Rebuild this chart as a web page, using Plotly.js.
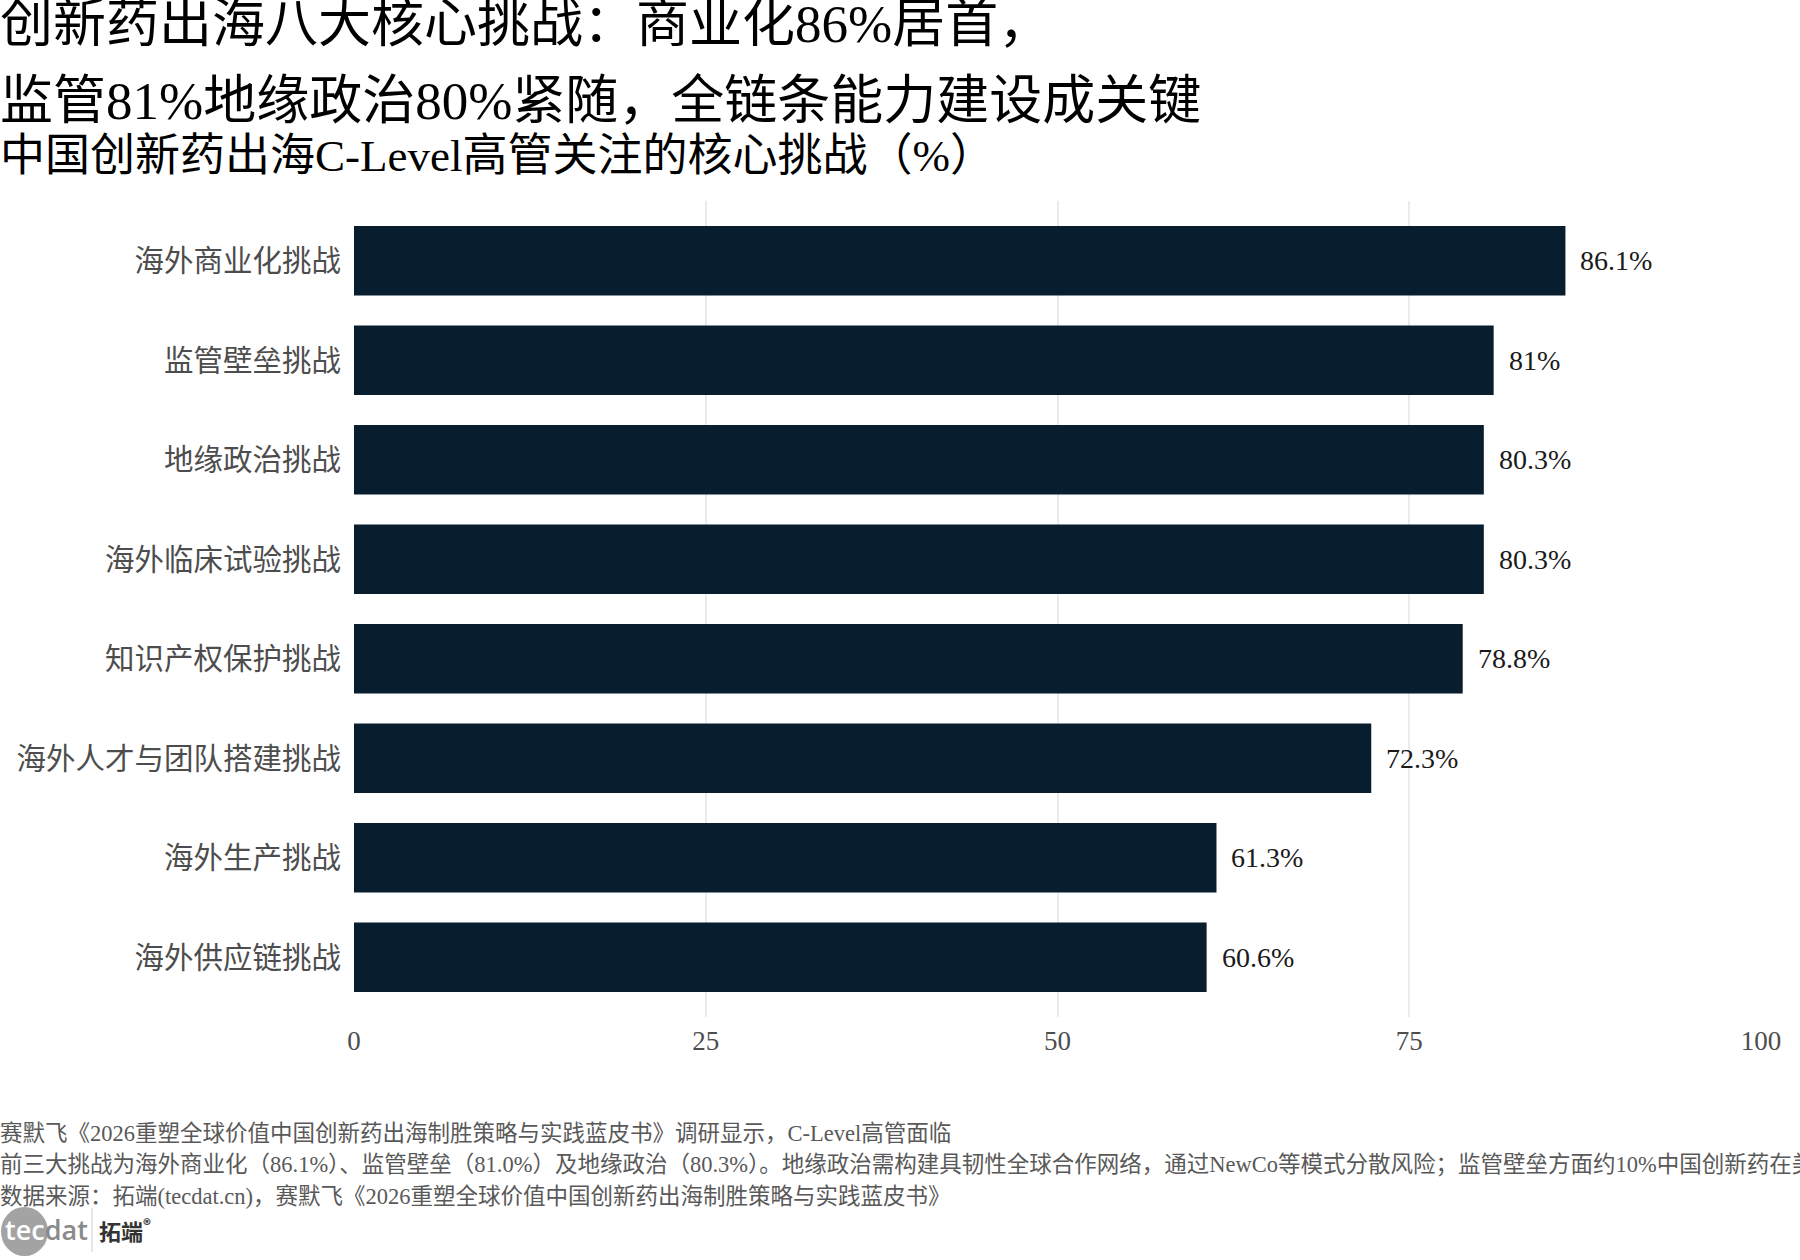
<!DOCTYPE html>
<html>
<head>
<meta charset="utf-8">
<script src="https://cdn.plot.ly/plotly-3.0.1.min.js"></script>
<style>
  html, body { margin: 0; padding: 0; background: #ffffff; }
  #chart { width: 1800px; height: 1260px; }
</style>
</head>
<body>
<div id="chart"></div>
<script>
// Challenge categories, top to bottom
const categories = [
  '海外商业化挑战',
  '监管壁垒挑战',
  '地缘政治挑战',
  '海外临床试验挑战',
  '知识产权保护挑战',
  '海外人才与团队搭建挑战',
  '海外生产挑战',
  '海外供应链挑战'
];

// Share of C-Level executives citing each challenge (%)
const shares = [86.1, 81, 80.3, 80.3, 78.8, 72.3, 61.3, 60.6];

// Axis ticks
const xTickVals = [0, 25, 50, 75, 100];
const xTickText = ['0', '25', '50', '75', '100'];

// Headline, subtitle and notes
const titleLines = [
  '创新药出海八大核心挑战：商业化86%居首，',
  '监管81%地缘政治80%紧随，全链条能力建设成关键'
];
const subtitleText = '中国创新药出海C-Level高管关注的核心挑战（%）';
const noteLines = [
  '赛默飞《2026重塑全球价值中国创新药出海制胜策略与实践蓝皮书》调研显示，C-Level高管面临',
  '前三大挑战为海外商业化（86.1%）、监管壁垒（81.0%）及地缘政治（80.3%）。地缘政治需构建具韧性全球合作网络，通过NewCo等模式分散风险；监管壁垒方面约10%中国创新药在美',
  '数据来源：拓端(tecdat.cn)，赛默飞《2026重塑全球价值中国创新药出海制胜策略与实践蓝皮书》'
];

// Page geometry
const W = 1800, H = 1260;
const M = { l: 354, r: 39, t: 201, b: 243, pad: 0 };
const fx = px => (px - M.l) / (W - M.l - M.r);
const fy = py => (H - M.b - py) / (H - M.t - M.b);

const FONT = '"Liberation Serif", "Noto Sans CJK SC", serif';
const BAR = '#081d2d';

const bars = {
  type: 'bar',
  orientation: 'h',
  x: shares,
  y: categories,
  marker: { color: BAR, line: { width: 0 } },
  width: 0.7,
  hoverinfo: 'skip'
};

// Value labels sit just past each bar's end
const valueLabels = shares.map((v, i) => ({
  x: v, y: categories[i], xref: 'x', yref: 'y',
  text: v + '%',
  showarrow: false, xanchor: 'left', yanchor: 'middle', xshift: 13,
  font: { family: FONT, size: 28, color: '#1a1a1a' }
}));

const textNote = (text, px, py, size, color, extra) => Object.assign({
  text, xref: 'paper', yref: 'paper', x: fx(px), y: fy(py),
  xanchor: 'left', yanchor: 'middle', showarrow: false, align: 'left',
  font: { family: FONT, size, color }
}, extra || {});

const annotations = [
  ...valueLabels,
  textNote(titleLines[0], -2, 24, 53, '#000000'),
  textNote(titleLines[1], -2, 101, 53, '#000000'),
  textNote(subtitleText, -2, 156, 45, '#000000'),
  textNote(noteLines[0], -2, 1133, 22.5, '#595959'),
  textNote(noteLines[1], -2, 1164, 22.5, '#595959'),
  textNote(noteLines[2], -2, 1196, 22.5, '#595959'),
  // brand mark
  textNote('<span style="color:#ffffff">tec</span><span style="color:#8a8a8a">dat</span>', 3, 1229, 27, '#8a8a8a',
    { font: { family: '"Open Sans", "Noto Sans", sans-serif', size: 27, color: '#8a8a8a', weight: 600 } }),
  textNote('拓端<sup>®</sup>', 97, 1229, 22, '#333333',
    { font: { family: '"Noto Sans CJK SC", sans-serif', size: 22, color: '#333333', weight: 700 } })
];

const shapes = [
  { type: 'circle', xref: 'paper', yref: 'paper', layer: 'below',
    x0: fx(1), x1: fx(48), y0: fy(1256), y1: fy(1207),
    fillcolor: '#a3a3a3', line: { width: 0 } },
  { type: 'line', xref: 'paper', yref: 'paper',
    x0: fx(92), x1: fx(92), y0: fy(1208), y1: fy(1252),
    line: { color: '#cfcfcf', width: 1 } }
];

const layout = {
  width: W, height: H,
  margin: M,
  paper_bgcolor: '#ffffff',
  plot_bgcolor: '#ffffff',
  showlegend: false,
  bargap: 0.3,
  xaxis: {
    range: [0, 100],
    autorange: false,
    tickmode: 'array',
    tickvals: xTickVals,
    ticktext: xTickText,
    showgrid: true,
    gridcolor: '#ebebeb',
    gridwidth: 2,
    zeroline: false,
    showline: false,
    ticks: '',
    ticklabelstandoff: 5,
    tickfont: { family: FONT, size: 27, color: '#4d4d4d' },
    fixedrange: true
  },
  yaxis: {
    type: 'category',
    categoryorder: 'array',
    categoryarray: categories,
    range: [7.6, -0.6],
    autorange: false,
    showgrid: false,
    zeroline: false,
    showline: false,
    ticks: '',
    ticklabelstandoff: 12,
    tickfont: { family: FONT, size: 29.5, color: '#4d4d4d' },
    fixedrange: true
  },
  annotations,
  shapes
};

Plotly.newPlot('chart', [bars], layout, { displayModeBar: false, staticPlot: true });
</script>
</body>
</html>
